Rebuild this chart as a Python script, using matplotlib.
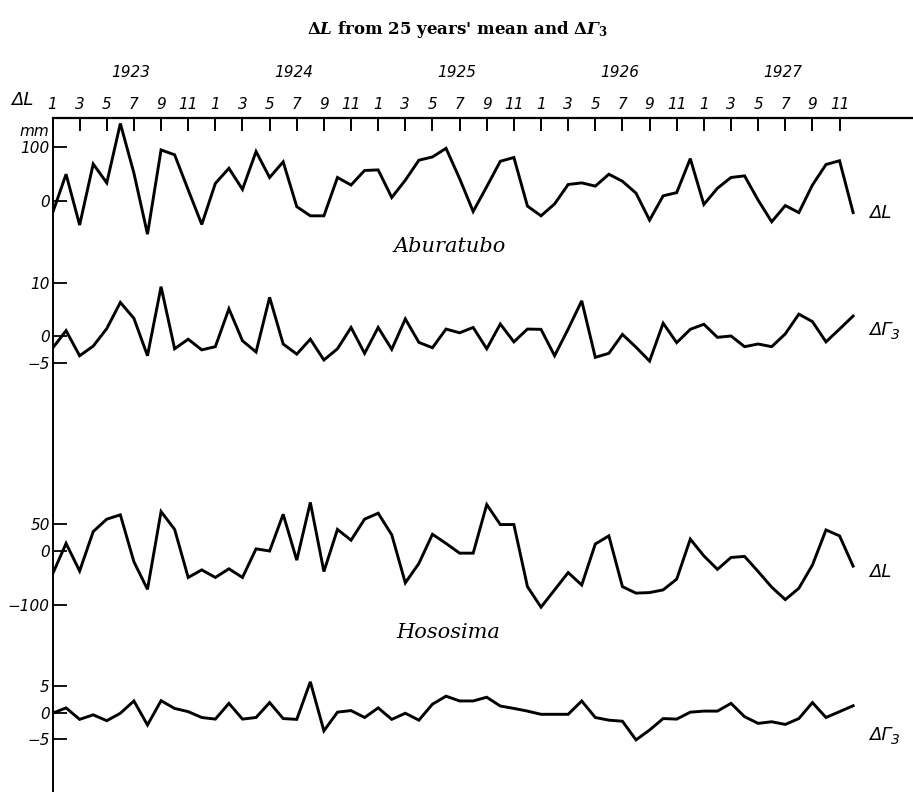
import matplotlib
matplotlib.use("Agg")
import matplotlib.pyplot as plt
import numpy as np

plt.rcParams['mathtext.fontset'] = 'dejavuserif'

years = [1923, 1924, 1925, 1926, 1927]
month_labels = ["1", "3", "5", "7", "9", "11"]

abu_dL = [-23, 49, -45, 68, 33, 143, 51, -62, 94, 85, 20, -44,
          32, 60, 21, 91, 43, 72, -11, -28, -28, 43, 29, 56,
          57, 6, 38, 75, 81, 97, 41, -20, 26, 73, 80, -10,
          -28, -6, 30, 33, 27, 49, 36, 14, -36, 9, 15, 78,
          -7, 23, 43, 46, 1, -39, -9, -22, 29, 67, 74, -22]
abu_dG = [-2.3, 1.0, -3.7, -1.9, 1.4, 6.3, 3.3, -3.7, 9.25, -2.4, -0.6, -2.6,
          -2.0, 5.1, -0.9, -3.0, 7.25, -1.5, -3.4, -0.6, -4.5, -2.4, 1.6, -3.25,
          1.6, -2.5, 3.2, -1.2, -2.2, 1.3, 0.6, 1.6, -2.4, 2.25, -1.1, 1.3,
          1.25, -3.7, 1.3, 6.6, -4.0, -3.25, 0.3, -2.1, -4.7, 2.4, -1.25, 1.25,
          2.2, -0.25, 0.0, -2.0, -1.5, -2.0, 0.4, 4.1, 2.7, -1.1, 1.3, 3.75]
hos_dL = [-43, 14, -37, 36, 59, 67, -20, -71, 73, 40, -49, -35,
          -49, -33, -49, 4, 0, 68, -17, 90, -38, 40, 20, 59,
          70, 30, -59, -23, 31, 14, -4, -4, 86, 49, 49, -66,
          -104, -72, -40, -63, 13, 28, -66, -78, -77, -72, -52, 22,
          -9, -34, -12, -10, -38, -67, -90, -69, -26, 39, 28, -28]
hos_dG = [-0.1, 0.9, -1.25, -0.4, -1.5, -0.1, 2.2, -2.3, 2.25, 0.8, 0.2, -0.9,
          -1.2, 1.75, -1.2, -0.9, 1.9, -1.1, -1.25, 5.8, -3.4, 0.1, 0.4, -0.9,
          0.9, -1.25, -0.1, -1.4, 1.6, 3.1, 2.2, 2.2, 2.9, 1.25, 0.8, 0.3,
          -0.3, -0.3, -0.3, 2.2, -0.9, -1.4, -1.6, -5.1, -3.25, -1.1, -1.2, 0.1,
          0.3, 0.3, 1.75, -0.75, -2.0, -1.7, -2.2, -1.1, 1.9, -0.9, 0.2, 1.3]

W, H = 913, 792
fig = plt.figure(figsize=(W / 100, H / 100), dpi=100)


def ax_px(x0, y0, x1, y1, **kw):
    return fig.add_axes([x0 / W, 1 - y1 / H, (x1 - x0) / W, (y1 - y0) / H], **kw)


XL, XR = 52.5, 913
step = 13.57
xmax = (XR - XL) / step
x = np.arange(len(abu_dL))

tickfont = dict(fontsize=11, style='italic', family='DejaVu Sans')

# Frame axes: top axis with month ticks, left vertical line
main = ax_px(XL, 118, XR, 792)
main.set_xlim(0, xmax)
main.set_ylim(0, 1)
main.patch.set_alpha(0)
for s in ['bottom', 'right']:
    main.spines[s].set_visible(False)
main.spines['top'].set_linewidth(1.6)
main.spines['left'].set_linewidth(1.4)
main.set_yticks([])
main.xaxis.set_ticks_position('top')
main.xaxis.set_label_position('top')
pos = np.arange(0, 12 * len(years), 2)
main.set_xticks(pos)
main.set_xticklabels(month_labels * len(years), **tickfont)
main.tick_params(axis='x', direction='in', length=9, width=1.4, pad=4)
for k, yr in enumerate(years):
    main.text(12 * k + 5.8, 1 + 38 / (792 - 118), str(yr),
              transform=main.get_xaxis_transform(),
              ha='center', va='bottom', fontsize=11, style='italic',
              family='DejaVu Sans')


def panel(y0, y1, zero_px, px_per_unit, data, ticks, ticklabels):
    ax = ax_px(XL, y0, XR, y1)
    ax.set_xlim(0, xmax)
    ax.set_ylim((zero_px - y1) / px_per_unit, (zero_px - y0) / px_per_unit)
    ax.patch.set_alpha(0)
    for s in ax.spines.values():
        s.set_visible(False)
    ax.set_xticks([])
    ax.set_yticks(ticks)
    ax.set_yticklabels(ticklabels, **tickfont)
    ax.tick_params(axis='y', direction='in', length=10, width=1.3, pad=2)
    ax.plot(x, data, color='black', lw=2.1, solid_joinstyle='miter')
    return ax


a1 = panel(118, 240, 200.7, 0.54, abu_dL, [0, 100], ["0", "100"])
a2 = panel(270, 380, 336.0, 16 / 3, abu_dG, [-5, 0, 10], ["\u22125", "0", "10"])
a3 = panel(500, 620, 551.0, 0.54, hos_dL, [-100, 0, 50], ["\u2212100", "0", "50"])
a4 = panel(670, 760, 712.7, 16 / 3, hos_dG, [-5, 0, 5], ["\u22125", "0", "5"])

# texts
fig.text(458 / W, 1 - 29 / H,
         r"$\mathbf{\Delta}\mathbfit{L}$ from 25 years' mean and $\mathbf{\Delta}\mathbfit{\Gamma}_{\mathbf{3}}$",
         ha='center', va='center', fontsize=12, fontweight='bold', family='DejaVu Serif')
lab = dict(ha='center', va='center', fontsize=13, style='italic', family='DejaVu Sans')
fig.text(22 / W, 1 - 100 / H, "ΔL", **lab)
fig.text(34 / W, 1 - 131 / H, "mm", ha='center', va='center', fontsize=11,
         style='italic', family='DejaVu Sans')
fig.text(880 / W, 1 - 213 / H, "ΔL", **lab)
fig.text(880 / W, 1 - 572 / H, "ΔL", **lab)
for yc in (330, 735):
    fig.text(880 / W, 1 - yc / H, "ΔΓ", **lab)
    fig.text(895 / W, 1 - (yc + 5) / H, "3", ha='center', va='center', fontsize=10,
             style='italic', family='DejaVu Sans')
fig.text(450 / W, 1 - 247 / H, "Aburatubo", ha='center', va='center', fontsize=15,
         style='italic', family='DejaVu Serif')
fig.text(448 / W, 1 - 632 / H, "Hososima", ha='center', va='center', fontsize=15,
         style='italic', family='DejaVu Serif')

fig.savefig("out.png", dpi=100)
